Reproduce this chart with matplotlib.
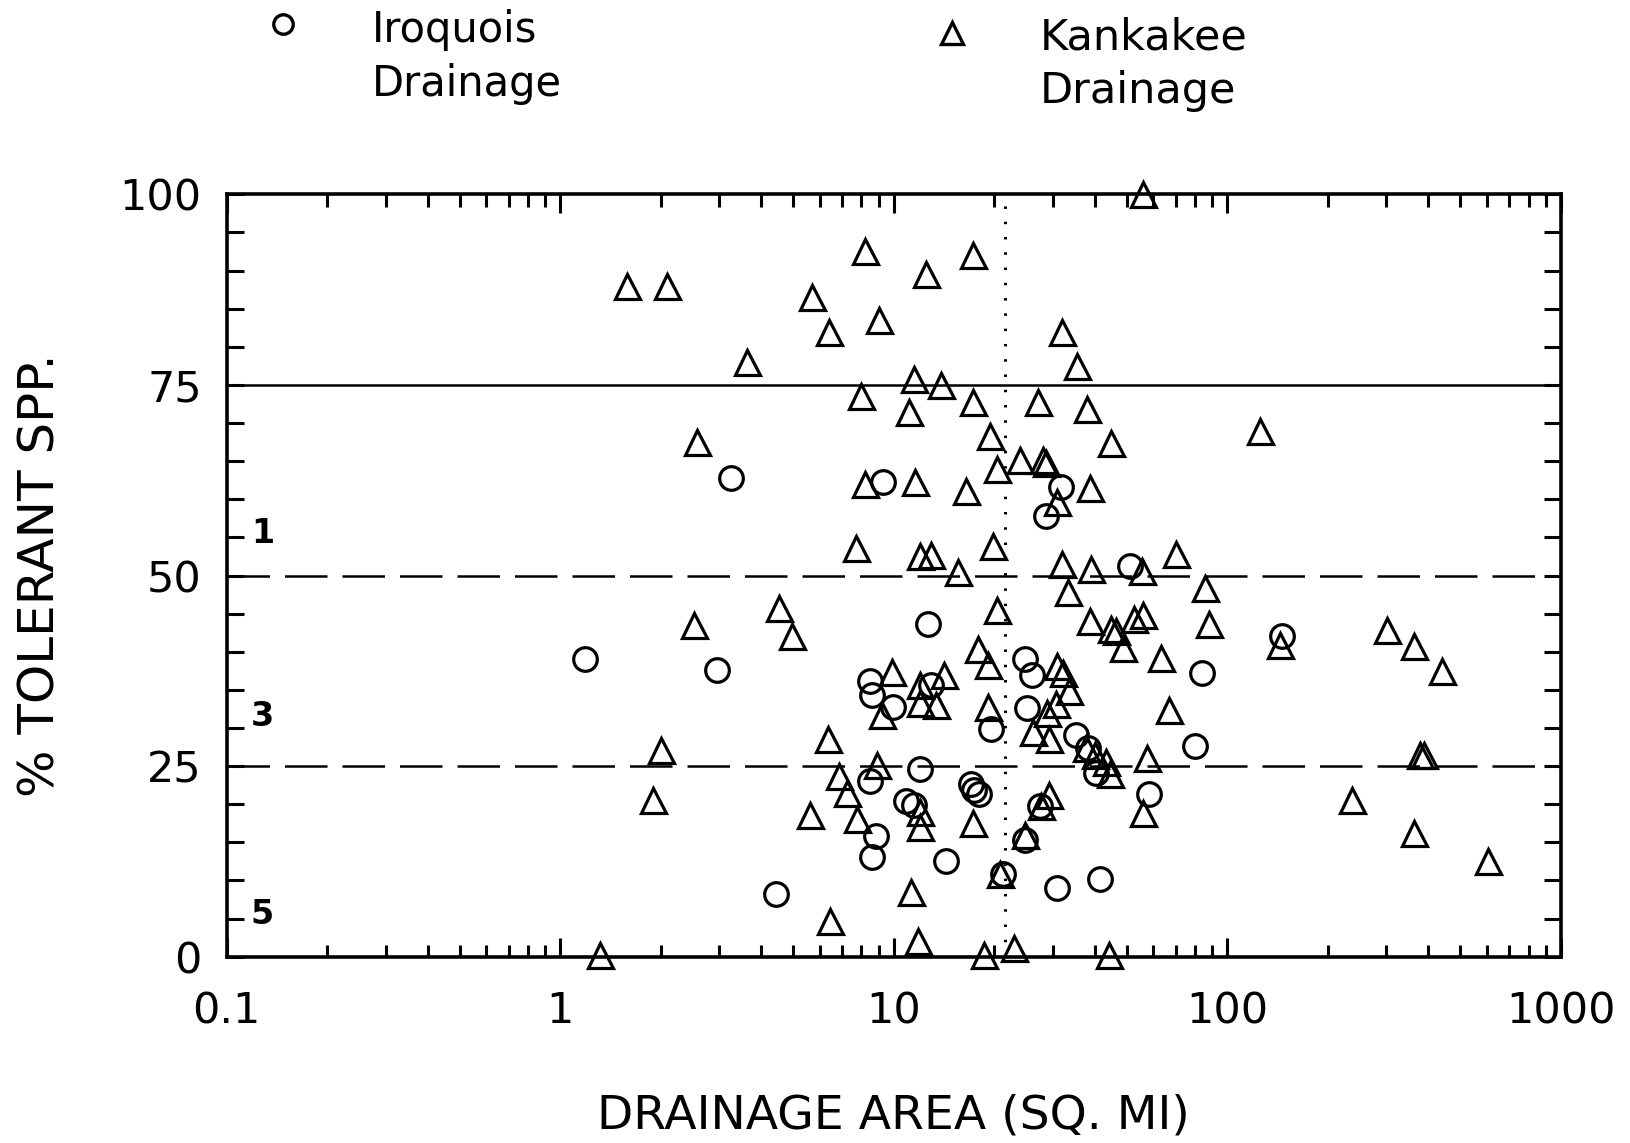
import matplotlib
matplotlib.use("Agg")
import matplotlib.pyplot as plt
from matplotlib.lines import Line2D
from matplotlib.ticker import LogLocator, NullFormatter, FixedLocator, FixedFormatter, MultipleLocator

# ---------------- data ----------------
kank_area = [1.59, 2.09, 5.7, 8.2, 17.3, 12.5, 9.0, 6.4, 3.63, 55.7, 32, 35.4, 11.5, 13.9, 8.0,
             17.3, 27, 11.1, 38, 2.57, 19.4, 44.9, 125, 20.4, 23.9, 28.1, 28.6, 8.2, 11.6, 16.5,
             38.8, 30.9, 7.7, 12.0, 12.9, 19.8, 15.6, 32, 39, 55.5, 70, 33.4, 85.9, 20.4, 4.54,
             4.95, 2.52, 38.8, 44.9, 46.5, 52.5, 55.8, 88.4, 144, 302, 362, 441, 63.2, 48.5, 9.86,
             17.9, 19.1, 14.1, 12.0, 13.4, 12.0, 9.2, 19.2, 30.9, 32.2, 33.6, 30.7, 28.8, 26.2,
             29.2, 66.7, 37.8, 40, 43.3, 44.6, 57.3, 378, 390, 2.01, 1.90, 6.35, 6.83, 7.25, 5.62,
             7.78, 8.91, 12.0, 12.0, 17.3, 11.3, 6.45, 11.8, 20.8, 24.7, 27.7, 29.2, 56, 237, 363,
             606, 1.32, 18.7, 22.9, 44.2]
kank_tol = [88, 88, 86.5, 92.5, 92, 89.5, 83.5, 82, 78, 100, 82, 77.5, 75.8, 75, 73.5,
            72.7, 72.8, 71.4, 71.8, 67.5, 68.3, 67.4, 69, 64, 65.2, 65.2, 64.8, 62, 62.3, 61.1,
            61.5, 59.7, 53.6, 52.5, 52.7, 53.9, 50.5, 51.5, 50.8, 50.6, 52.8, 47.8, 48.4, 45.5, 45.8,
            42, 43.5, 44, 43, 42.7, 44.3, 44.8, 43.6, 40.9, 42.9, 40.7, 37.5, 39.2, 40.5, 37.4,
            40.4, 38.2, 37, 35.6, 33, 33.3, 31.7, 32.7, 38.1, 37.2, 34.9, 33.2, 31.9, 29.5,
            28.6, 32.4, 27.4, 26.4, 25.5, 24, 26, 26.4, 26.4, 27.1, 20.5, 28.6, 23.7, 21.5, 18.6,
            18.1, 25.1, 19, 17, 17.6, 8.5, 4.7, 2, 10.9, 16, 19.8, 21.2, 18.8, 20.6, 16.2,
            12.5, 0.2, 0.2, 1.2, 0.2]

iroq_area = [1.19, 2.95, 3.26, 9.31, 4.44, 12.7, 8.47, 8.59, 9.94, 12.9, 8.47, 8.85, 8.59, 12.0,
             10.9, 11.5, 14.3, 17.0, 17.4, 18.0, 19.5, 21.3, 28.6, 31.8, 24.7, 26.0, 25.1, 35.2,
             38.3, 40.3, 41.5, 30.9, 24.7, 27.4, 51, 58.1, 79.8, 83.9, 146]
iroq_tol = [39.1, 37.6, 62.8, 62.3, 8.2, 43.7, 36.2, 34.3, 32.8, 35.7, 23.1, 15.8, 13.1, 24.6,
            20.4, 19.9, 12.6, 22.7, 21.8, 21.4, 29.9, 10.9, 57.8, 61.6, 39.1, 37, 32.6, 29.1,
            27.4, 24.1, 10.2, 9.0, 15.3, 19.8, 51.3, 21.3, 27.7, 37.2, 42]

x_ticks = [0.1, 1, 10, 100, 1000]
x_tick_labels = ["0.1", "1", "10", "100", "1000"]
y_ticks = [0, 25, 50, 75, 100]
y_tick_labels = ["0", "25", "50", "75", "100"]
class_lines = [75, 50, 25]
class_labels = ["1", "3", "5"]
class_label_y = [55.5, 31.5, 5.5]
divider_area = 21.5

# ---------------- figure ----------------
plt.rcParams['font.family'] = ['DejaVu Sans']
fig = plt.figure(figsize=(16.31, 11.43), dpi=100)
ax = fig.add_axes([0.139, 0.163, 0.818, 0.667])

ax.set_xscale('log')
ax.set_xlim(0.1, 1000)
ax.set_ylim(0, 100)

# reference lines
ax.axhline(class_lines[0], color='black', lw=1.8)
for yv in class_lines[1:]:
    ax.axhline(yv, color='black', lw=1.8, dashes=(17, 6))
ax.axvline(divider_area, color='black', lw=2.2, linestyle=(0, (0.8, 4.2)))

mk = dict(linestyle='none', markerfacecolor='none', markeredgecolor='black',
          markeredgewidth=2.3, clip_on=False, zorder=3)
ax.plot(kank_area, kank_tol, marker='^', markersize=18, **mk)
ax.plot(iroq_area, iroq_tol, marker='o', markersize=17, **mk)

for lab, yv in zip(class_labels, class_label_y):
    ax.text(0.128, yv, lab, fontsize=24, fontweight='bold', ha='center', va='center')

# ticks
ax.xaxis.set_major_locator(FixedLocator(x_ticks))
ax.xaxis.set_major_formatter(FixedFormatter(x_tick_labels))
ax.xaxis.set_minor_locator(LogLocator(base=10, subs=range(2, 10)))
ax.xaxis.set_minor_formatter(NullFormatter())
ax.yaxis.set_major_locator(FixedLocator(y_ticks))
ax.yaxis.set_major_formatter(FixedFormatter(y_tick_labels))
ax.yaxis.set_minor_locator(MultipleLocator(5))

ax.tick_params(which='both', direction='in', top=True, right=True, width=2.2, colors='black')
ax.tick_params(which='major', length=14)
ax.tick_params(which='minor', length=9)
ax.tick_params(axis='y', which='minor', length=12)
ax.tick_params(axis='y', which='major', length=12)
ax.tick_params(axis='x', which='major', labelsize=31, pad=24)
ax.tick_params(axis='y', which='major', labelsize=31, pad=18)

for s in ax.spines.values():
    s.set_linewidth(2.6)

ax.set_xlabel("DRAINAGE AREA (SQ. MI)", fontsize=34, labelpad=44)
ax.set_ylabel("% TOLERANT SPP.", fontsize=36, labelpad=40)

# legend at top
fig.add_artist(Line2D([283 / 1631], [1 - 24 / 1143], transform=fig.transFigure, marker='o',
                      markersize=14, markerfacecolor='none', markeredgecolor='black',
                      markeredgewidth=2.4, linestyle='none'))
fig.add_artist(Line2D([952 / 1631], [1 - 33 / 1143], transform=fig.transFigure, marker='^',
                      markersize=16, markerfacecolor='none', markeredgecolor='black',
                      markeredgewidth=2.4, linestyle='none'))
fig.text(372 / 1631, 1 - 30 / 1143, "Iroquois", fontsize=30, ha='left', va='center')
fig.text(372 / 1631, 1 - 84 / 1143, "Drainage", fontsize=30, ha='left', va='center')
fig.text(1040 / 1631, 1 - 38 / 1143, "Kankakee", fontsize=31, ha='left', va='center')
fig.text(1040 / 1631, 1 - 91 / 1143, "Drainage", fontsize=31, ha='left', va='center')

fig.savefig("out.png", dpi=100, facecolor='white')
